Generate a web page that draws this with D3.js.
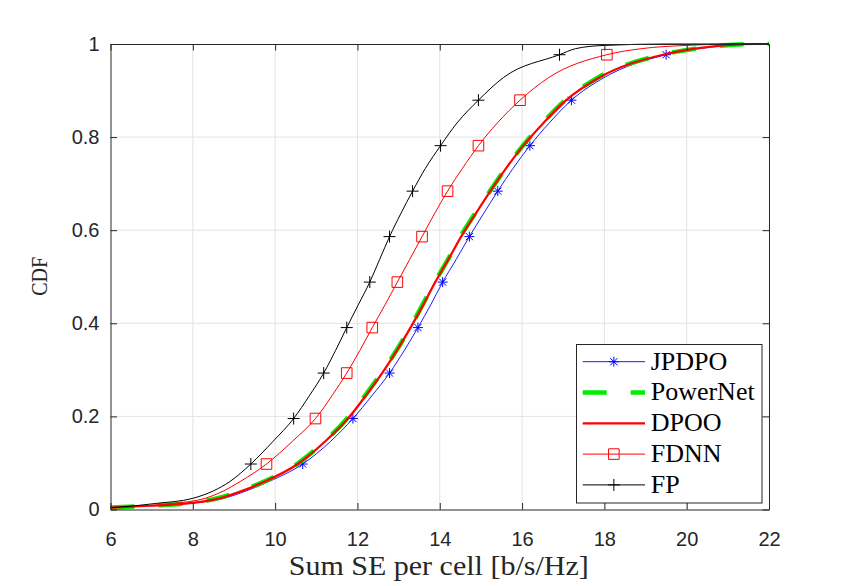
<!DOCTYPE html>
<html>
<head>
<meta charset="utf-8">
<script src="https://cdn.jsdelivr.net/npm/d3@7"></script>
<style>
  html, body { margin: 0; padding: 0; background: #fff; }
  svg { display: block; }
</style>
</head>
<body>
<svg id="chart" width="850" height="586"></svg>
<script>
// ---------------- DATA ----------------
const seriesNames = ["JPDPO", "PowerNet", "DPOO", "FDNN", "FP"];
const xTicks = [6, 8, 10, 12, 14, 16, 18, 20, 22];
const yTicks = [0, 0.2, 0.4, 0.6, 0.8, 1];
const yTickLabels = ["0", "0.2", "0.4", "0.6", "0.8", "1"];
// CDF levels (shared by all series)
const cdfLevels = [0.004, 0.008, 0.013, 0.024, 0.04, 0.06, 0.0977, 0.1465, 0.1954, 0.2442,
  0.2931, 0.3419, 0.3908, 0.4396, 0.4885, 0.5373, 0.5862, 0.635, 0.6839, 0.7327,
  0.7816, 0.8304, 0.8793, 0.9281, 0.977, 0.99, 0.997, 1.0, 1.0];
// indices of cdfLevels that carry a marker
const markerIdx = [6, 8, 10, 12, 14, 16, 18, 20, 22, 24];
// Sum SE values (x) at each CDF level
const seJPDPO = [6, 7.0, 7.9, 8.75, 9.3, 9.85, 10.67, 11.35, 11.89, 12.35, 12.78, 13.14, 13.47, 13.78,
  14.07, 14.4, 14.72, 15.06, 15.41, 15.78, 16.19, 16.66, 17.2, 18.0, 19.5, 20.3, 21.0, 21.8, 22];
const sePowerNet = [6, 6.95, 7.8, 8.6, 9.18, 9.73, 10.53, 11.2, 11.75, 12.18, 12.58, 12.95, 13.28, 13.58,
  13.88, 14.2, 14.5, 14.85, 15.22, 15.6, 16.02, 16.5, 17.05, 17.85, 19.4, 20.2, 20.9, 21.7, 22];
const seDPOO = [6, 6.95, 7.85, 8.65, 9.2, 9.75, 10.55, 11.22, 11.77, 12.2, 12.6, 12.96, 13.29, 13.6,
  13.89, 14.21, 14.52, 14.87, 15.23, 15.61, 16.03, 16.52, 17.07, 17.88, 19.42, 20.2, 20.9, 21.7, 22];
const seFDNN = [6, 6.9, 7.5, 8.3, 8.75, 9.15, 9.79, 10.42, 10.98, 11.38, 11.74, 12.06, 12.36, 12.67,
  12.97, 13.27, 13.57, 13.87, 14.19, 14.55, 14.94, 15.4, 15.95, 16.65, 18.06, 18.9, 20.0, 21.2, 22];
const seFP = [6, 6.6, 7.1, 8.0, 8.5, 8.9, 9.41, 9.95, 10.45, 10.83, 11.18, 11.47, 11.74, 12.02,
  12.30, 12.54, 12.78, 13.05, 13.34, 13.65, 14.02, 14.42, 14.94, 15.55, 16.91, 17.3, 18.0, 19.5, 22];

// ---------------- STYLE ----------------
const styles = {
  JPDPO:    { color: "#0000ff", width: 0.9, dash: null, marker: "star" },
  PowerNet: { color: "#00ee00", width: 4.6, dash: "24,24", marker: null },
  DPOO:     { color: "#ff0000", width: 2.2, dash: null, marker: null },
  FDNN:     { color: "#ff0000", width: 1.0, dash: null, marker: "square" },
  FP:       { color: "#000000", width: 1.0, dash: null, marker: "plus" }
};
const seriesX = { JPDPO: seJPDPO, PowerNet: sePowerNet, DPOO: seDPOO, FDNN: seFDNN, FP: seFP };

const W = 850, H = 586;
const plot = { left: 110.5, right: 769, top: 44, bottom: 509.5 };
const axisColor = "#262626";

const svg = d3.select("#chart");
svg.append("rect").attr("width", W).attr("height", H).attr("fill", "#fff");

const x = d3.scaleLinear().domain([6, 22]).range([plot.left, plot.right]);
const y = d3.scaleLinear().domain([0, 1]).range([plot.bottom, plot.top]);

// grid
const grid = svg.append("g");
grid.selectAll("line.gx").data(xTicks.slice(1, -1)).enter().append("line")
  .attr("x1", d => x(d)).attr("x2", d => x(d))
  .attr("y1", plot.top).attr("y2", plot.bottom)
  .attr("stroke", "#e3e3e3").attr("stroke-width", 1);
grid.selectAll("line.gy").data(yTicks.slice(1, -1)).enter().append("line")
  .attr("y1", d => y(d)).attr("y2", d => y(d))
  .attr("x1", plot.left).attr("x2", plot.right)
  .attr("stroke", "#e3e3e3").attr("stroke-width", 1);

// lines
const lineGen = d3.line().x(d => x(d[0])).y(d => y(d[1])).curve(d3.curveMonotoneX);
svg.append("clipPath").attr("id", "clip").append("rect")
  .attr("x", plot.left).attr("y", plot.top - 3).attr("width", plot.right - plot.left)
  .attr("height", plot.bottom - plot.top + 6);
const linesG = svg.append("g").attr("clip-path", "url(#clip)");

function markerPath(type, cx, cy) {
  if (type === "star") {
    const a = 5, b = 3.6;
    return `M${cx - a},${cy}H${cx + a}M${cx},${cy - a}V${cy + a}` +
           `M${cx - b},${cy - b}L${cx + b},${cy + b}M${cx - b},${cy + b}L${cx + b},${cy - b}`;
  }
  if (type === "plus") {
    const a = 6;
    return `M${cx - a},${cy}H${cx + a}M${cx},${cy - a}V${cy + a}`;
  }
  if (type === "square") {
    const a = 5.3;
    return `M${cx - a},${cy - a}H${cx + a}V${cy + a}H${cx - a}Z`;
  }
  return "";
}

seriesNames.forEach(name => {
  const st = styles[name];
  const pts = seriesX[name].map((v, i) => [v, cdfLevels[i]]);
  linesG.append("path").datum(pts)
    .attr("d", lineGen)
    .attr("fill", "none")
    .attr("stroke", st.color)
    .attr("stroke-width", st.width)
    .attr("stroke-dasharray", st.dash)
    .attr("stroke-linecap", "butt")
    .attr("stroke-linejoin", "round");
  if (st.marker) {
    const mpts = markerIdx.map(i => pts[i]);
    linesG.selectAll(null).data(mpts).enter().append("path")
      .attr("d", d => markerPath(st.marker, x(d[0]), y(d[1])))
      .attr("fill", "none")
      .attr("stroke", st.color)
      .attr("stroke-width", 1);
  }
});

// axes
const tickFont = "'Liberation Sans', Arial, Helvetica, sans-serif";
const xAxis = d3.axisBottom(x).tickValues(xTicks).tickSizeInner(-6.5).tickSizeOuter(0).tickPadding(22)
  .tickFormat(d3.format("d"));
const gx = svg.append("g").attr("transform", `translate(0,${plot.bottom})`).call(xAxis);
const xAxisTop = d3.axisTop(x).tickValues(xTicks).tickSizeInner(-6.5).tickSizeOuter(0).tickFormat("");
const gxt = svg.append("g").attr("transform", `translate(0,${plot.top})`).call(xAxisTop);
const yAxis = d3.axisLeft(y).tickValues(yTicks).tickSizeInner(-6.5).tickSizeOuter(0).tickPadding(11)
  .tickFormat((d, i) => yTickLabels[i]);
const gy = svg.append("g").attr("transform", `translate(${plot.left},0)`).call(yAxis);
const yAxisR = d3.axisRight(y).tickValues(yTicks).tickSizeInner(-6.5).tickSizeOuter(0).tickFormat("");
const gyr = svg.append("g").attr("transform", `translate(${plot.right},0)`).call(yAxisR);

[gx, gxt, gy, gyr].forEach(g => {
  g.select(".domain").attr("stroke", axisColor).attr("stroke-width", 1);
  g.selectAll(".tick line").attr("stroke", axisColor).attr("stroke-width", 1);
  g.selectAll(".tick text").attr("fill", axisColor)
    .style("font-family", tickFont).style("font-size", "20px");
});

// axis labels
const serif = "'Liberation Serif', 'Times New Roman', serif";
svg.append("text")
  .attr("x", (plot.left + plot.right) / 2 - 1).attr("y", 575)
  .attr("text-anchor", "middle")
  .attr("textLength", 300).attr("lengthAdjust", "spacingAndGlyphs")
  .style("font-family", serif).style("font-size", "27px").attr("fill", axisColor)
  .text("Sum SE per cell [b/s/Hz]");
svg.append("text")
  .attr("transform", `translate(47,${(plot.top + plot.bottom) / 2 - 0.5}) rotate(-90)`)
  .attr("text-anchor", "middle")
  .attr("textLength", 39).attr("lengthAdjust", "spacingAndGlyphs")
  .style("font-family", serif).style("font-size", "23px").attr("fill", axisColor)
  .text("CDF");

// legend
const leg = { x: 576.5, y: 344.5, w: 185.5, h: 158.5, row0: 361.7, rowH: 30.8, lx0: 582.7, lx1: 645, tx: 650.7 };
const lg = svg.append("g");
lg.append("rect").attr("x", leg.x).attr("y", leg.y).attr("width", leg.w).attr("height", leg.h)
  .attr("fill", "#fff").attr("stroke", axisColor).attr("stroke-width", 1);
seriesNames.forEach((name, i) => {
  const st = styles[name];
  const cy = leg.row0 + i * leg.rowH;
  lg.append("line").attr("x1", leg.lx0).attr("x2", leg.lx1).attr("y1", cy).attr("y2", cy)
    .attr("stroke", st.color).attr("stroke-width", st.width)
    .attr("stroke-dasharray", st.dash).attr("stroke-linecap", "butt");
  if (st.marker) {
    lg.append("path").attr("d", markerPath(st.marker, (leg.lx0 + leg.lx1) / 2, cy))
      .attr("fill", "none").attr("stroke", st.color).attr("stroke-width", 1);
  }
  lg.append("text").attr("x", leg.tx).attr("y", cy + 7.8)
    .style("font-family", serif).style("font-size", "26px").attr("fill", "#000")
    .text(name);
});
</script>
</body>
</html>
